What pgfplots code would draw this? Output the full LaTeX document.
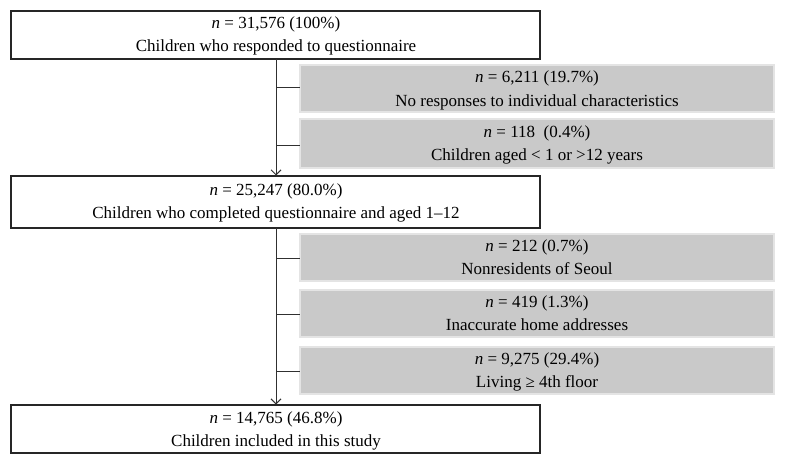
\documentclass[border=0pt]{standalone}
\usepackage{fontspec}
\setmainfont{Liberation Serif}
\usepackage{pgfplots}
\pgfplotsset{compat=1.18}
\usetikzlibrary{arrows.meta}
\definecolor{boxgray}{HTML}{C9C9C9}
\definecolor{edgegray}{HTML}{E4E4E4}
\definecolor{linegray}{HTML}{303030}
\newcommand{\tf}{\fontsize{17bp}{19bp}\selectfont}
\tikzset{t/.style={font=\tf,inner sep=0pt,anchor=base}}
\begin{document}
\begin{tikzpicture}
\begin{axis}[width=789bp,height=463bp,scale only axis,
  xmin=0,xmax=789,ymin=0,ymax=463,y dir=reverse,
  axis lines=none,clip=false]
% invisible frame
\path (0,0) rectangle (789,463);
% main white boxes
\draw[line width=1.8bp,black!85] (11,11) rectangle (540,59);
\draw[line width=1.8bp,black!85] (11,176) rectangle (540,228);
\draw[line width=1.8bp,black!85] (11,405) rectangle (540,453);
% gray exclusion boxes
\draw[fill=boxgray,draw=edgegray,line width=1.5bp] (300,65) rectangle (774,112);
\draw[fill=boxgray,draw=edgegray,line width=1.5bp] (300,119) rectangle (774,168);
\draw[fill=boxgray,draw=edgegray,line width=1.5bp] (300,234) rectangle (774,281);
\draw[fill=boxgray,draw=edgegray,line width=1.5bp] (300,290) rectangle (774,337);
\draw[fill=boxgray,draw=edgegray,line width=1.5bp] (300,347) rectangle (774,394);
% vertical arrows
\draw[line width=1bp,linegray,-{Straight Barb[length=5bp,width=10bp]}] (276,59) -- (276,175.5);
\draw[line width=1bp,linegray,-{Straight Barb[length=5bp,width=10bp]}] (276,228) -- (276,404.5);
% connectors
\draw[line width=1bp,linegray] (276,88) -- (300,88);
\draw[line width=1bp,linegray] (276,145) -- (300,145);
\draw[line width=1bp,linegray] (276,258) -- (300,258);
\draw[line width=1bp,linegray] (276,314) -- (300,314);
\draw[line width=1bp,linegray] (276,371) -- (300,371);
% texts in white boxes
\node[t] at (276,29) {\textit{n} = 31,576 (100\%)};
\node[t] at (276,52) {Children who responded to questionnaire};
\node[t] at (276,195) {\textit{n} = 25,247 (80.0\%)};
\node[t] at (276,218) {Children who completed questionnaire and aged 1--12};
\node[t] at (276,423) {\textit{n} = 14,765 (46.8\%)};
\node[t] at (276,446) {Children included in this study};
% texts in gray boxes
\node[t] at (537,83) {\textit{n} = 6,211 (19.7\%)};
\node[t] at (537,106) {No responses to individual characteristics};
\node[t] at (537,137) {\textit{n} = 118 \ (0.4\%)};
\node[t] at (537,160) {Children aged < 1 or >12 years};
\node[t] at (537,251) {\textit{n} = 212 (0.7\%)};
\node[t] at (537,274) {Nonresidents of Seoul};
\node[t] at (537,307) {\textit{n} = 419 (1.3\%)};
\node[t] at (537,330) {Inaccurate home addresses};
\node[t] at (537,364) {\textit{n} = 9,275 (29.4\%)};
\node[t] at (537,387) {Living ≥ 4th floor};
\end{axis}
\end{tikzpicture}
\end{document}
